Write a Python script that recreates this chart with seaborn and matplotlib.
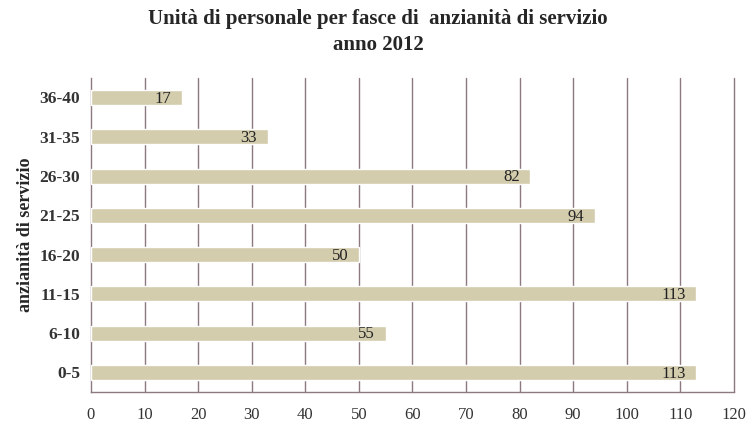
import matplotlib
matplotlib.use("Agg")
import matplotlib.pyplot as plt
import seaborn as sns
import pandas as pd
import numpy as np

categories = ["36-40", "31-35", "26-30", "21-25", "16-20", "11-15", "6-10", "0-5"]
values = [17, 33, 82, 94, 50, 113, 55, 113]
x_ticks = [0, 10, 20, 30, 40, 50, 60, 70, 80, 90, 100, 110, 120]

sns.set_style("white")
plt.rcParams['font.family'] = ['Liberation Serif', 'DejaVu Serif']

df = pd.DataFrame({"cat": categories, "val": values})

fig = plt.figure(figsize=(7.52, 4.23), dpi=100)
ax = fig.add_axes([0.121, 0.073, 0.855, 0.743])

grid_col = "#8c7a80"
bar_col = "#d3ccad"

sns.barplot(data=df, x="val", y="cat", order=categories, color=bar_col,
            width=0.38, ax=ax, saturation=1, zorder=3)

ax.set_xlim(0, 120)
ax.set_ylim(7.5, -0.5)
ax.set_xticks(x_ticks)
ax.set_xticklabels([str(t) for t in x_ticks], fontsize=12, color="#333333")
for t in x_ticks[1:]:
    ax.axvline(t, color=grid_col, lw=1.0, zorder=1, clip_on=False)

ax.set_yticks(range(len(categories)))
ax.set_yticklabels(categories, fontsize=12.5, fontweight="bold", color="#333333")
ax.set_yticks(np.arange(-0.5, len(categories), 1), minor=True)
ax.tick_params(axis="y", which="major", length=0, pad=8)
ax.tick_params(axis="y", which="minor", length=5, color=grid_col, width=1, direction="out")
ax.tick_params(axis="x", which="major", length=5, color=grid_col, width=1, direction="out", pad=6)

for s in ["top", "right"]:
    ax.spines[s].set_visible(False)
for s in ["left", "bottom"]:
    ax.spines[s].set_color(grid_col)
    ax.spines[s].set_linewidth(1.0)

for i, v in enumerate(values):
    ax.text(v - 2, i + 0.03, str(v), ha="right", va="center", fontsize=12, color="#222222", zorder=4)

ax.set_xlabel("")
ax.set_ylabel("anzianità di servizio", fontsize=13, fontweight="bold", labelpad=4)

fig.suptitle("Unità di personale per fasce di  anzianità di servizio\nanno 2012",
             fontsize=15, fontweight="bold", y=0.978, x=0.503, linespacing=1.4)

fig.savefig("out.png", dpi=100, facecolor="white")
